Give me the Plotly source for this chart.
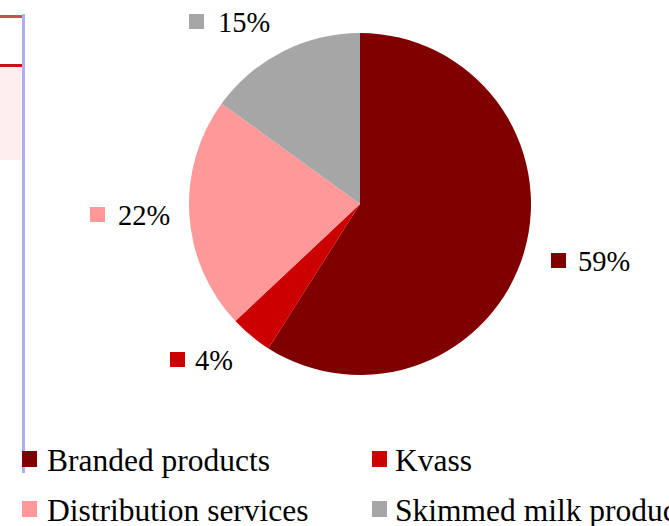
import plotly.graph_objects as go

categories = ["Branded products", "Kvass", "Distribution services", "Skimmed milk products"]
shares = [59, 4, 22, 15]
colors = ["#800000", "#CC0000", "#FF9999", "#A6A6A6"]

W, H = 669, 526
def px(x):
    return x / W
def py(y):
    return 1 - y / H

FONT = "Liberation Serif, Times New Roman, serif"

fig = go.Figure()
fig.add_trace(go.Pie(
    labels=categories, values=shares, sort=False, direction="clockwise", rotation=0,
    marker=dict(colors=colors, line=dict(width=0)),
    textinfo="none", hoverinfo="label+percent", showlegend=False,
    domain=dict(x=[px(189), px(531)], y=[py(375), py(33)]),
))

shapes = []
annotations = []

# outside percentage labels: (square x, square y top, text x)
label_pos = [(551, 253, 576), (170, 352, 193), (90, 207, 116), (189, 14, 216)]
for (sx, sy, tx), v, c in zip(label_pos, shares, colors):
    shapes.append(dict(type="rect", xref="paper", yref="paper", x0=px(sx), x1=px(sx + 15),
                       y0=py(sy + 15), y1=py(sy), fillcolor=c, line=dict(width=0)))
    annotations.append(dict(text=f"{v}%", x=px(tx), y=py(sy + 8), xref="paper", yref="paper",
                            xanchor="left", yanchor="middle", showarrow=False,
                            font=dict(family=FONT, size=28.5, color="#000000")))

# left-side decorations
shapes.append(dict(type="rect", xref="paper", yref="paper", x0=0, x1=px(22), y0=py(160), y1=py(66),
                   fillcolor="#FFEEEE", line=dict(width=0), layer="below"))
shapes.append(dict(type="rect", xref="paper", yref="paper", x0=0, x1=px(22), y0=py(67), y1=py(64),
                   fillcolor="#C01818", line=dict(width=0)))
shapes.append(dict(type="rect", xref="paper", yref="paper", x0=0, x1=px(22), y0=py(18), y1=py(15),
                   fillcolor="#C85050", line=dict(width=0)))
shapes.append(dict(type="rect", xref="paper", yref="paper", x0=px(22), x1=px(25), y0=py(473), y1=py(14),
                   fillcolor="#AFAFEF", line=dict(width=0)))

# legend
legend_pos = [(22, 451, 45), (372, 451, 393), (22, 501, 45), (372, 501, 393)]
for (sx, sy, tx), name, c in zip(legend_pos, categories, colors):
    shapes.append(dict(type="rect", xref="paper", yref="paper", x0=px(sx), x1=px(sx + 15),
                       y0=py(sy + 16), y1=py(sy), fillcolor=c, line=dict(width=0)))
    annotations.append(dict(text=name, x=px(tx), y=py(sy + 9), xref="paper", yref="paper",
                            xanchor="left", yanchor="middle", showarrow=False,
                            font=dict(family=FONT, size=31.5, color="#000000")))

fig.update_layout(
    width=W, height=H, margin=dict(l=0, r=0, t=0, b=0),
    paper_bgcolor="white", plot_bgcolor="white",
    shapes=shapes, annotations=annotations, showlegend=False,
)

fig.write_html("out.html", config={"displayModeBar": False},
               post_script="document.body.style.margin='0';document.body.style.overflow='hidden';")
